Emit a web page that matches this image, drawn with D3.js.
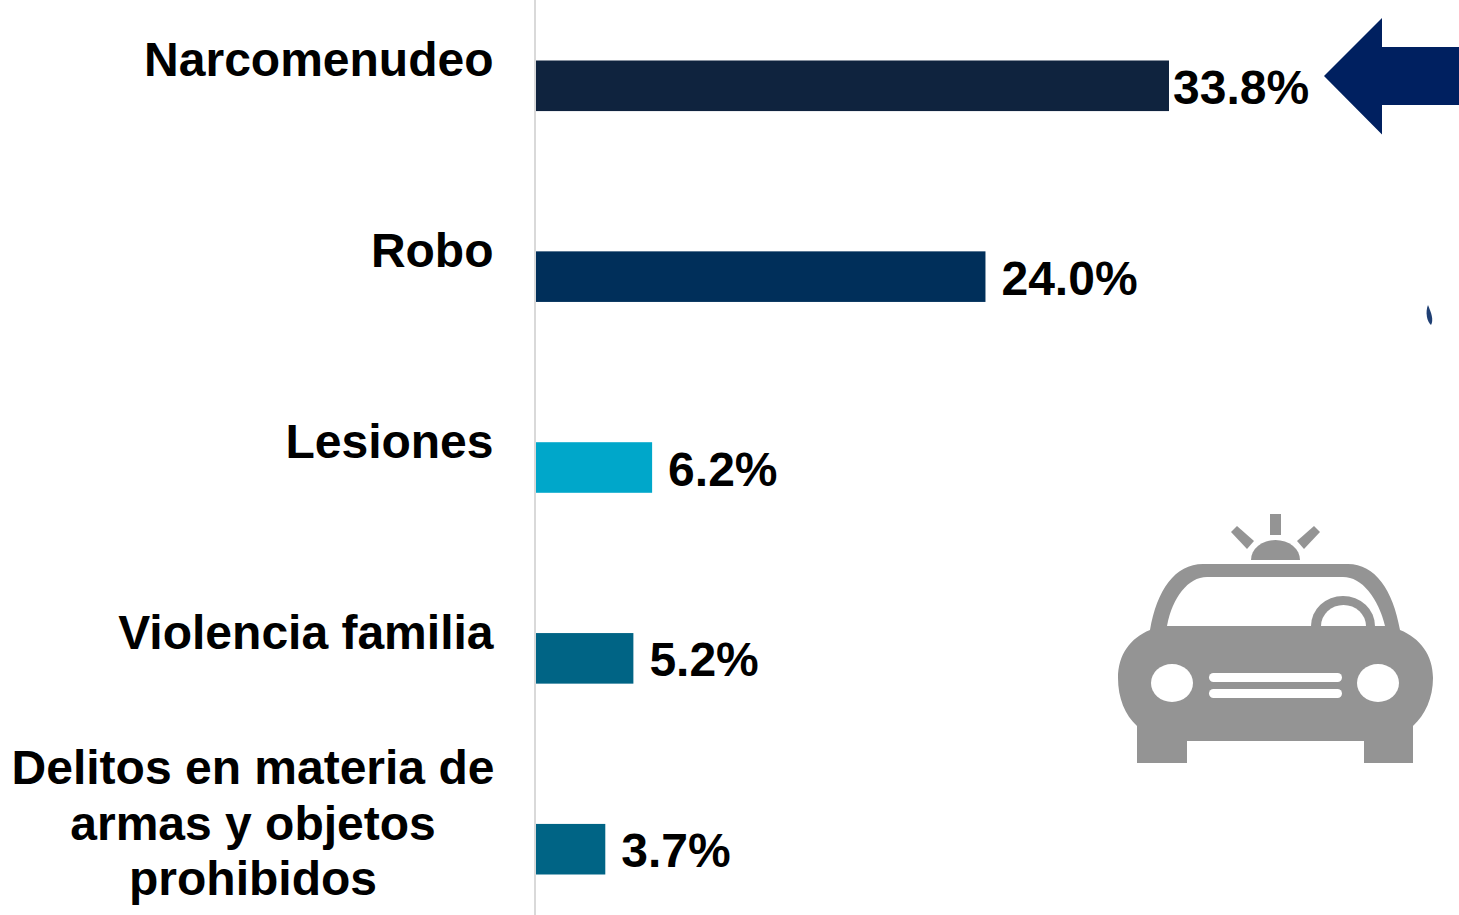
<!DOCTYPE html>
<html>
<head>
<meta charset="utf-8">
<script src="https://cdn.jsdelivr.net/npm/d3@7"></script>
<style>
  html, body { margin: 0; padding: 0; background: #fff; overflow: hidden; }
  svg { display: block; }
  text { font-family: "Liberation Sans", Arial, sans-serif; font-weight: bold; fill: #000; }
</style>
</head>
<body>
<div id="my_dataviz"></div>
<script>
// chart values
var categories = ["Narcomenudeo", "Robo", "Lesiones", "Violencia familia", "Delitos en materia de armas y objetos prohibidos"];
var values = [33.8, 24.0, 6.2, 5.2, 3.7];
var barColors = ["#0F233E", "#002F5A", "#00A7CA", "#006485", "#006485"];
var longLabelLines = ["Delitos en materia de", "armas y objetos", "prohibidos"];

var width = 1459, height = 915;
var fontSize = 48;

var svg = d3.select("#my_dataviz")
  .append("svg")
    .attr("width", width)
    .attr("height", height);

// x scale: 33.8% runs from the axis at 536 to 1169
var x = d3.scaleLinear()
  .domain([0, 33.8])
  .range([536, 1169]);

var y = d3.scaleBand()
  .domain(categories)
  .range([60.5, 874.5])
  .paddingInner(0.735)
  .paddingOuter(0);

// vertical axis line
svg.append("line")
  .attr("x1", 535).attr("x2", 535)
  .attr("y1", 0).attr("y2", height)
  .attr("stroke", "#D9D9D9")
  .attr("stroke-width", 2);

// bars
svg.selectAll(".bar")
  .data(values)
  .enter()
  .append("rect")
    .attr("class", "bar")
    .attr("x", x(0))
    .attr("y", function (d, i) { return y(categories[i]); })
    .attr("width", function (d) { return x(d) - x(0); })
    .attr("height", y.bandwidth())
    .attr("fill", function (d, i) { return barColors[i]; });

// value labels
svg.selectAll(".value")
  .data(values)
  .enter()
  .append("text")
    .attr("class", "value")
    .attr("x", function (d, i) { return x(d) + (i == 0 ? 4 : 16); })
    .attr("y", function (d, i) { return y(categories[i]) + y.bandwidth() / 2 + 18; })
    .style("font-size", fontSize + "px")
    .text(function (d) { return d.toFixed(1) + "%"; });

// category labels, sitting above the bar centre
svg.selectAll(".cat")
  .data(categories.slice(0, 4))
  .enter()
  .append("text")
    .attr("class", "cat")
    .attr("text-anchor", "end")
    .attr("x", 493.5)
    .attr("y", function (d) { return y(d) + y.bandwidth() / 2 - 9.5; })
    .style("font-size", fontSize + "px")
    .text(function (d) { return d; });

// the long one is wrapped and centred
svg.selectAll(".catlong")
  .data(longLabelLines)
  .enter()
  .append("text")
    .attr("class", "catlong")
    .attr("text-anchor", "middle")
    .attr("x", 253)
    .attr("y", function (d, i) { return 784 + i * 55.5; })
    .style("font-size", fontSize + "px")
    .text(function (d) { return d; });

// arrow
svg.append("path")
  .attr("d", "M1324,76 L1382,18 L1382,47 L1459,47 L1459,105 L1382,105 L1382,134.5 Z")
  .attr("fill", "#002060");

// small stray mark
svg.append("path")
  .attr("d", "M1428,305 C1425,312 1427,322 1431,325 C1434,320 1431,312 1428,305 Z")
  .attr("fill", "#1F3F73");

// patrol car icon
var car = svg.append("g").attr("fill", "#949494");
car.append("path")
  .attr("d", "M1203,564 L1348,564 C1375,564 1393,590 1400,630 C1420,638 1433,655 1433,678 C1433,698 1425,715 1413,726 L1413,763 L1364,763 L1364,741 L1187,741 L1187,763 L1137,763 L1137,726 C1125,715 1118,698 1118,678 C1118,655 1130,638 1150,630 C1157,590 1175,564 1203,564 Z");
car.append("path")
  .attr("d", "M1167,626 C1172,598 1188,577 1207,577 L1343,577 C1362,577 1378,598 1385,626 Z")
  .attr("fill", "#fff");
car.append("path")
  .attr("d", "M1311,626 A32,30 0 0 1 1375,626 Z");
car.append("path")
  .attr("d", "M1321,626 A22.5,21 0 0 1 1366,626 Z")
  .attr("fill", "#fff");
car.append("ellipse").attr("cx", 1172).attr("cy", 683).attr("rx", 21).attr("ry", 19).attr("fill", "#fff");
car.append("ellipse").attr("cx", 1378).attr("cy", 683).attr("rx", 21).attr("ry", 19).attr("fill", "#fff");
car.append("rect").attr("x", 1209).attr("y", 673).attr("width", 133).attr("height", 9).attr("rx", 4.5).attr("fill", "#fff");
car.append("rect").attr("x", 1209).attr("y", 689).attr("width", 133).attr("height", 9).attr("rx", 4.5).attr("fill", "#fff");
// beacon and its rays
car.append("path").attr("d", "M1251,560 A24.5,20 0 0 1 1300,560 Z");
car.append("rect").attr("x", 1270).attr("y", 514).attr("width", 11).attr("height", 21);
car.append("path").attr("d", "M1231,532 L1237,526 L1254,541 L1247,549 Z");
car.append("path").attr("d", "M1320,532 L1314,526 L1297,541 L1304,549 Z");
</script>
</body>
</html>
